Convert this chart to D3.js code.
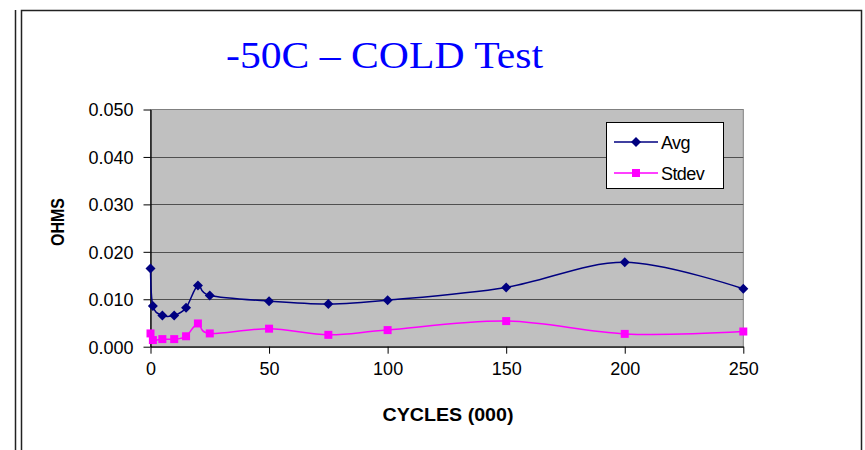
<!DOCTYPE html>
<html lang="en">
<head>
  <meta charset="UTF-8" />
  <title>-50C COLD Test</title>
  <script src="https://d3js.org/d3.v7.min.js"></script>
  <style>
    body {
      margin: 0;
      background-color: #ffffff;
    }
    svg {
      display: block;
    }
    .tick text {
      font-family: "Liberation Sans", Arial, sans-serif;
      font-size: 18px;
      fill: #000;
    }
  </style>
</head>
<body>
<svg width="865" height="450"></svg>

<script>
  // Data
  const cycles = [0, 1, 5, 10, 15, 20, 25, 50, 75, 100, 150, 200, 250];
  const avg = [0.0165, 0.0086, 0.0066, 0.0066, 0.0082, 0.0129, 0.0108, 0.0096, 0.0090, 0.0098, 0.0125, 0.0178, 0.0122];
  const stdev = [0.0028, 0.0014, 0.0016, 0.0016, 0.0022, 0.0049, 0.0028, 0.0038, 0.0025, 0.0035, 0.0054, 0.0027, 0.0032];
  const seriesNames = ["Avg", "Stdev"];
  const xTicks = [0, 50, 100, 150, 200, 250];
  const yTicks = [0, 0.01, 0.02, 0.03, 0.04, 0.05];

  const svg = d3.select("svg");
  const colors = { Avg: "#000080", Stdev: "#ff00ff" };

  // Outer frame lines
  svg.append("line").attr("x1", 15.5).attr("x2", 15.5).attr("y1", 10).attr("y2", 450)
    .attr("stroke", "#222").attr("stroke-width", 1.5);
  svg.append("path").attr("d", "M21.5,450 V10.5 H861.5 V450")
    .attr("fill", "none").attr("stroke", "#222").attr("stroke-width", 1.5);

  // Title
  svg.append("text")
    .attr("x", 226).attr("y", 68)
    .attr("textLength", 317).attr("lengthAdjust", "spacingAndGlyphs")
    .attr("font-family", "'Liberation Serif', 'Times New Roman', serif")
    .attr("font-size", 38)
    .attr("fill", "#0000ff")
    .text("-50C \u2013 COLD Test");

  const plot = { left: 150.5, right: 743.3, top: 109.5, bottom: 346.7 };

  const x = d3.scaleLinear().domain([0, 250]).range([plot.left, plot.right]);
  const y = d3.scaleLinear().domain([0, 0.05]).range([plot.bottom, plot.top]);

  // Plot area background
  svg.append("rect")
    .attr("x", plot.left).attr("y", plot.top)
    .attr("width", plot.right - plot.left).attr("height", plot.bottom - plot.top)
    .attr("fill", "#c0c0c0").attr("stroke", "#808080").attr("stroke-width", 1);

  // Gridlines
  svg.append("g").selectAll("line")
    .data(yTicks.slice(1, -1))
    .join("line")
    .attr("x1", plot.left).attr("x2", plot.right)
    .attr("y1", d => Math.round(y(d)) + 0.5).attr("y2", d => Math.round(y(d)) + 0.5)
    .attr("stroke", "#505050").attr("stroke-width", 1);

  // Axes
  const xAxis = svg.append("g")
    .attr("transform", `translate(0,${plot.bottom})`)
    .call(d3.axisBottom(x).tickValues(xTicks).tickSize(7).tickPadding(9).tickSizeOuter(0));
  const yAxis = svg.append("g")
    .attr("transform", `translate(${plot.left},0)`)
    .call(d3.axisLeft(y).tickValues(yTicks).tickFormat(d3.format(".3f")).tickSize(7).tickPadding(10).tickSizeOuter(0));
  [xAxis, yAxis].forEach(a => {
    a.select(".domain").attr("stroke", "#000").attr("stroke-width", 1.3);
    a.selectAll(".tick line").attr("stroke", "#000");
    a.attr("font-family", null).attr("font-size", null);
  });
  yAxis.selectAll(".tick text").attr("dy", "0.36em");

  // Axis titles
  svg.append("text")
    .attr("x", 448).attr("y", 421)
    .attr("text-anchor", "middle")
    .attr("font-family", "'Liberation Sans', Arial, sans-serif")
    .attr("font-size", 19).attr("font-weight", "bold")
    .attr("textLength", 131).attr("lengthAdjust", "spacingAndGlyphs")
    .text("CYCLES (000)");
  svg.append("text")
    .attr("transform", "translate(64,222) rotate(-90)")
    .attr("text-anchor", "middle")
    .attr("font-family", "'Liberation Sans', Arial, sans-serif")
    .attr("font-size", 19).attr("font-weight", "bold")
    .attr("textLength", 48).attr("lengthAdjust", "spacingAndGlyphs")
    .text("OHMS");

  // Lines and markers
  const line = d3.line()
    .x(d => x(d[0]))
    .y(d => y(d[1]))
    .curve(d3.curveCardinal.tension(0));

  const diamond = s => `M0,${-s}L${s},0L0,${s}L${-s},0Z`;

  const seriesData = {
    Avg: cycles.map((c, i) => [c, avg[i]]),
    Stdev: cycles.map((c, i) => [c, stdev[i]])
  };

  seriesNames.forEach(name => {
    svg.append("path")
      .datum(seriesData[name])
      .attr("fill", "none")
      .attr("stroke", colors[name])
      .attr("stroke-width", 1.5)
      .attr("d", line);
  });

  svg.append("g").selectAll("path")
    .data(seriesData.Avg)
    .join("path")
    .attr("transform", d => `translate(${x(d[0])},${y(d[1])})`)
    .attr("d", diamond(5))
    .attr("fill", colors.Avg);

  svg.append("g").selectAll("rect")
    .data(seriesData.Stdev)
    .join("rect")
    .attr("x", d => x(d[0]) - 4).attr("y", d => y(d[1]) - 4)
    .attr("width", 8).attr("height", 8)
    .attr("fill", colors.Stdev);

  // Legend
  const legend = svg.append("g");
  legend.append("rect")
    .attr("x", 606.5).attr("y", 122.5).attr("width", 117).attr("height", 66)
    .attr("fill", "#fff").attr("stroke", "#000").attr("stroke-width", 1);

  seriesNames.forEach((name, i) => {
    const ly = 142 + i * 31;
    legend.append("line")
      .attr("x1", 614).attr("x2", 658).attr("y1", ly).attr("y2", ly)
      .attr("stroke", colors[name]).attr("stroke-width", 1.5);
    if (name === "Avg") {
      legend.append("path").attr("transform", `translate(636,${ly})`)
        .attr("d", diamond(5)).attr("fill", colors[name]);
    } else {
      legend.append("rect").attr("x", 632).attr("y", ly - 4)
        .attr("width", 8).attr("height", 8).attr("fill", colors[name]);
    }
    legend.append("text")
      .attr("x", 661).attr("y", ly + 6.5)
      .attr("font-family", "'Liberation Sans', Arial, sans-serif")
      .attr("font-size", 18)
      .attr("letter-spacing", -0.6)
      .text(name);
  });
</script>
</body>
</html>
